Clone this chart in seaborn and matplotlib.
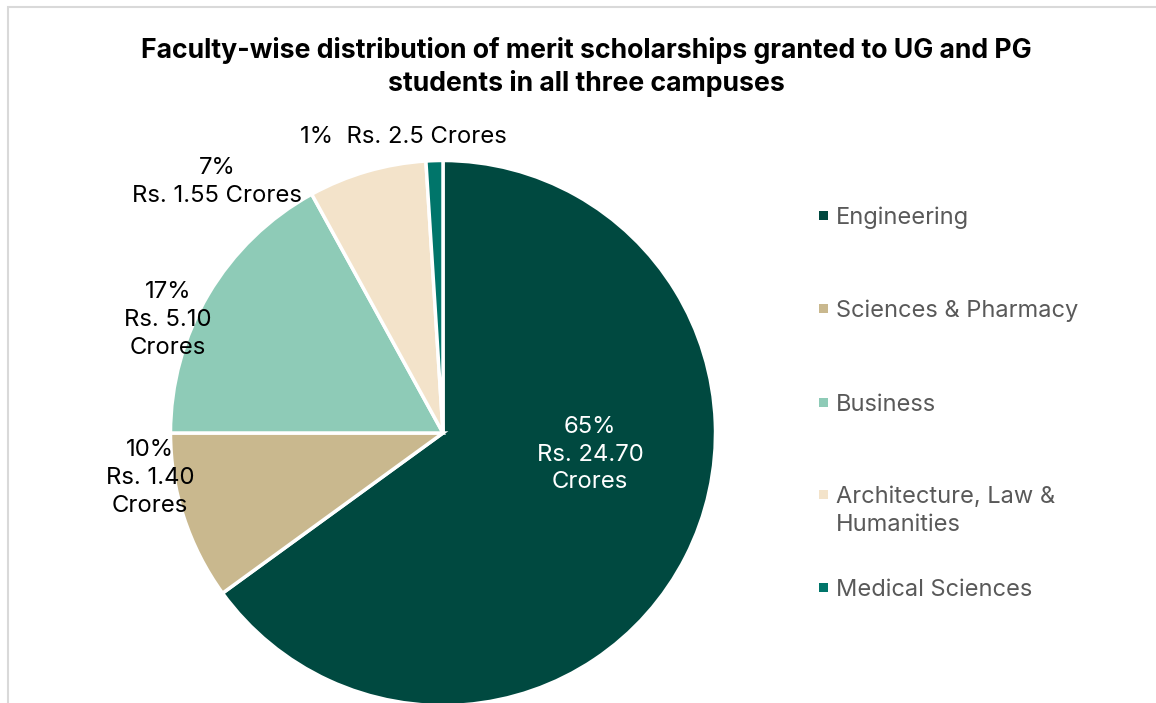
import matplotlib.pyplot as plt
import seaborn as sns
from matplotlib.patches import Rectangle

FIGURE_DPI = 100

faculties = [
    "Engineering",
    "Sciences & Pharmacy",
    "Business",
    "Architecture, Law &\nHumanities",
    "Medical Sciences",
]
shares = [65, 10, 17, 7, 1]
amount_labels = [
    "65%\nRs. 24.70\nCrores",
    "10%\nRs. 1.40\nCrores",
    "17%\nRs. 5.10\nCrores",
    "7%\nRs. 1.55 Crores",
    "1%  Rs. 2.5 Crores",
]
colors = ["#004940", "#C9B88E", "#8ECBB7", "#F3E3CA", "#00756A"]
title = (
    "Faculty-wise distribution of merit scholarships granted to UG and PG\n"
    "students in all three campuses"
)

# label anchors in pie data units (radius = 1)
label_positions = [(0.54, -0.08), (-1.075, -0.165), (-1.01, 0.415), (-0.83, 0.92), (-0.147, 1.086)]
label_colors = ["white", "black", "black", "black", "black"]
# legend rows, figure pixels from top
legend_rows = [218, 311, 405, 511, 590]


def main() -> None:
    sns.set_theme(style="white")
    plt.rcParams["font.family"] = ["Inter", "DejaVu Sans"]

    fig = plt.figure(figsize=(11.56, 7.03), dpi=FIGURE_DPI)
    W, H = 1156, 703
    cx, cy, r = 443, 433, 272.5
    ax = fig.add_axes([(cx - r) / W, (H - cy - r) / H, 2 * r / W, 2 * r / H])

    wedges, _ = ax.pie(
        shares,
        colors=colors,
        startangle=90,
        counterclock=False,
        radius=1,
        wedgeprops=dict(edgecolor="white", linewidth=2.5),
    )
    ax.set_xlim(-1, 1)
    ax.set_ylim(-1, 1)
    ax.set_aspect("equal")
    ax.axis("off")

    for text, (x, y), color in zip(amount_labels, label_positions, label_colors):
        ax.text(x, y, text, ha="center", va="center", fontsize=17.2,
                color=color, linespacing=1.33, clip_on=False)

    fig.text(586 / W, 1 - 67 / H, title, ha="center", va="center",
             fontsize=19.2, fontweight="bold", color="black", linespacing=1.24)

    for name, color, row in zip(faculties, colors, legend_rows):
        n_lines = name.count("\n") + 1
        first_line_y = row - (n_lines - 1) * 14
        fig.add_artist(Rectangle((819 / W, 1 - (first_line_y + 2) / H), 9 / W, 9 / H,
                                 transform=fig.transFigure, facecolor=color, edgecolor="none"))
        fig.text(836 / W, 1 - row / H, name, ha="left", va="center", fontsize=17,
                 color="#595959", linespacing=1.33)

    fig.add_artist(Rectangle((8 / W, -0.1), 1.2, 1.1 - 7 / H, transform=fig.transFigure,
                             fill=False, edgecolor="#d9d9d9", linewidth=1.5))

    fig.savefig("out.png", dpi=FIGURE_DPI)
    plt.close(fig)


if __name__ == "__main__":
    main()
